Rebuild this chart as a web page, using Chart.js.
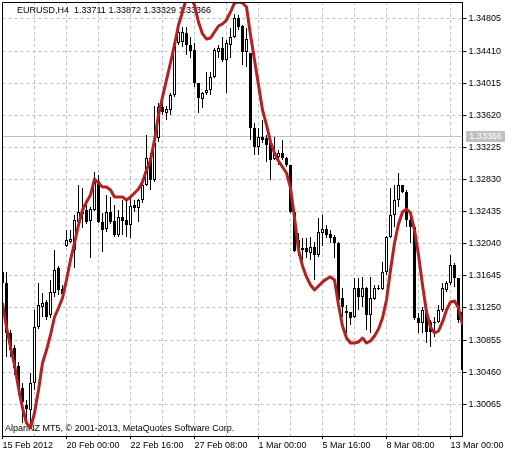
<!DOCTYPE html>
<html>
<head>
<meta charset="utf-8">
<title>EURUSD,H4</title>
<script src="https://cdn.jsdelivr.net/npm/chart.js@4.4.1/dist/chart.umd.min.js"></script>
<style>
  html, body { margin: 0; padding: 0; background: #fff; }
  #wrap { width: 516px; height: 457px; }
</style>
</head>
<body>
<div id="wrap"><canvas id="priceChart" width="516" height="457"></canvas></div>
<script>
// EURUSD H4 sviečky (index = poradie baru)
const opens = [
  1.31692, 1.31557, 1.30941, 1.30757, 1.30535, 1.30265, 1.30055, 1.29994, 1.30326, 1.31015,
  1.31261, 1.31323, 1.31163, 1.31434, 1.31741, 1.31483, 1.32012, 1.32061, 1.31963, 1.32307,
  1.32430, 1.32455, 1.32320, 1.32455, 1.32812, 1.32307, 1.32221, 1.32430, 1.32320, 1.32147,
  1.32369, 1.32332, 1.32270, 1.32516, 1.32480, 1.32578, 1.32763, 1.33095, 1.32824, 1.33341,
  1.33722, 1.33649, 1.33685, 1.33870, 1.34510, 1.34522, 1.34633, 1.34485, 1.34424, 1.34018,
  1.33821, 1.33895, 1.33932, 1.34092, 1.34399, 1.34448, 1.34301, 1.34485, 1.34584, 1.34818,
  1.34719, 1.34399, 1.34387, 1.33464, 1.33230, 1.33353, 1.33341, 1.33279, 1.33083, 1.33107,
  1.33156, 1.33095, 1.33009, 1.32430, 1.32086, 1.31987, 1.31987, 1.31926, 1.32000, 1.31901,
  1.32172, 1.32221, 1.32160, 1.32123, 1.32049, 1.31372, 1.31212, 1.31200, 1.31138, 1.31495,
  1.31384, 1.31495, 1.31163, 1.31360, 1.31483, 1.31483, 1.31692, 1.32123, 1.32393, 1.32578,
  1.32763, 1.32676, 1.32332, 1.32246, 1.31126, 1.31064, 1.31224, 1.31077, 1.31077, 1.31077,
  1.31224, 1.31471, 1.31557, 1.31778, 1.31618, 1.31200
];
const highs = [
  1.31741, 1.31692, 1.30978, 1.30794, 1.30585, 1.30326, 1.30117, 1.30449, 1.31224, 1.31557,
  1.31434, 1.31347, 1.31594, 1.31963, 1.31766, 1.31532, 1.32209, 1.32209, 1.32393, 1.32763,
  1.32726, 1.32516, 1.32492, 1.32923, 1.32886, 1.32418, 1.32640, 1.32615, 1.32516, 1.32455,
  1.32578, 1.32603, 1.32640, 1.32578, 1.32590, 1.32824, 1.33378, 1.33156, 1.33735, 1.33772,
  1.33772, 1.33735, 1.33895, 1.34547, 1.34694, 1.34707, 1.34707, 1.34584, 1.34510, 1.34018,
  1.33907, 1.34153, 1.34153, 1.34448, 1.34485, 1.34584, 1.34547, 1.34694, 1.34867, 1.34854,
  1.34731, 1.34694, 1.34387, 1.33525, 1.33464, 1.33562, 1.33378, 1.33316, 1.33353, 1.33193,
  1.33316, 1.33107, 1.33009, 1.32455, 1.32172, 1.32110, 1.32110, 1.32123, 1.32061, 1.32357,
  1.32393, 1.32270, 1.32209, 1.32147, 1.32061, 1.31495, 1.31286, 1.31200, 1.31618, 1.31618,
  1.31631, 1.31507, 1.31631, 1.31532, 1.31532, 1.31815, 1.32135, 1.32726, 1.32763, 1.32910,
  1.32763, 1.32701, 1.32418, 1.32246, 1.31188, 1.31261, 1.31261, 1.31101, 1.31138, 1.31286,
  1.31557, 1.31581, 1.31901, 1.31803, 1.31618, 1.31224
];
const lows = [
  1.31471, 1.30646, 1.30646, 1.30425, 1.30179, 1.29834, 1.29834, 1.29809, 1.30240, 1.30991,
  1.31138, 1.31101, 1.31126, 1.31384, 1.31409, 1.31347, 1.32000, 1.32049, 1.31741, 1.32295,
  1.32233, 1.32283, 1.31864, 1.32443, 1.32295, 1.31938, 1.32184, 1.32283, 1.32123, 1.32123,
  1.32147, 1.32123, 1.32110, 1.32430, 1.32307, 1.32541, 1.32750, 1.32701, 1.32799, 1.33292,
  1.33624, 1.33562, 1.33624, 1.33845, 1.34485, 1.34461, 1.34362, 1.34325, 1.33968, 1.33649,
  1.33710, 1.33870, 1.33870, 1.34079, 1.34325, 1.34276, 1.33895, 1.34325, 1.34571, 1.34670,
  1.34239, 1.34215, 1.33316, 1.33132, 1.33132, 1.33279, 1.33046, 1.32824, 1.33070, 1.33009,
  1.33070, 1.32984, 1.32418, 1.31938, 1.31889, 1.31840, 1.31864, 1.31840, 1.31594, 1.31877,
  1.32012, 1.32110, 1.32049, 1.31864, 1.31311, 1.31138, 1.30941, 1.31040, 1.31126, 1.31224,
  1.31261, 1.30978, 1.30941, 1.31347, 1.31471, 1.31471, 1.31655, 1.32110, 1.32246, 1.32492,
  1.32664, 1.32246, 1.32049, 1.31101, 1.30941, 1.30941, 1.30818, 1.30769, 1.30892, 1.31064,
  1.31200, 1.31446, 1.31532, 1.31507, 1.31064, 1.30461
];
const closes = [
  1.31557, 1.30941, 1.30732, 1.30511, 1.30265, 1.30092, 1.30006, 1.30326, 1.31015, 1.31286,
  1.31311, 1.31138, 1.31446, 1.31717, 1.31471, 1.31421, 1.32086, 1.32098, 1.32332, 1.32430,
  1.32406, 1.32307, 1.32467, 1.32824, 1.32307, 1.32209, 1.32430, 1.32307, 1.32147, 1.32369,
  1.32320, 1.32270, 1.32504, 1.32480, 1.32578, 1.32763, 1.33095, 1.32824, 1.33279, 1.33722,
  1.33661, 1.33698, 1.33870, 1.34510, 1.34645, 1.34645, 1.34485, 1.34411, 1.34018, 1.33833,
  1.33895, 1.33932, 1.34092, 1.34424, 1.34448, 1.34301, 1.34510, 1.34584, 1.34818, 1.34707,
  1.34399, 1.34559, 1.33464, 1.33230, 1.33353, 1.33316, 1.33255, 1.33070, 1.33156, 1.33156,
  1.33095, 1.33009, 1.32430, 1.31950, 1.31987, 1.31963, 1.31938, 1.32000, 1.31901, 1.32184,
  1.32221, 1.32147, 1.32110, 1.32049, 1.31347, 1.31261, 1.31188, 1.31126, 1.31495, 1.31384,
  1.31495, 1.31163, 1.31372, 1.31495, 1.31495, 1.31692, 1.32123, 1.32393, 1.32578, 1.32763,
  1.32676, 1.32332, 1.32246, 1.31126, 1.31064, 1.31224, 1.30954, 1.30954, 1.31064, 1.31224,
  1.31495, 1.31557, 1.31778, 1.31618, 1.31101, 1.30486
];
// červená krivka indikátora
const maLine = [
  1.31311, 1.31015, 1.30769, 1.30548, 1.30265, 1.30019, 1.29834, 1.29772, 1.29957, 1.30240,
  1.30572, 1.30732, 1.30917, 1.31138, 1.31249, 1.31372, 1.31594, 1.31840, 1.32049, 1.32270,
  1.32455, 1.32553, 1.32640, 1.32836, 1.32787, 1.32738, 1.32738, 1.32701, 1.32615, 1.32615,
  1.32615, 1.32578, 1.32615, 1.32664, 1.32713, 1.32799, 1.32947, 1.33070, 1.33316, 1.33624,
  1.33845, 1.34055, 1.34264, 1.34485, 1.34731, 1.34891, 1.35064, 1.35076, 1.34977, 1.34768,
  1.34621, 1.34559, 1.34571, 1.34645, 1.34719, 1.34744, 1.34793, 1.34891, 1.35002, 1.35014,
  1.35002, 1.34953, 1.34608, 1.34301, 1.33993, 1.33685, 1.33501, 1.33292, 1.33156, 1.33058,
  1.32984, 1.32910, 1.32726, 1.32357, 1.31963, 1.31766, 1.31631, 1.31532, 1.31471, 1.31520,
  1.31569, 1.31606, 1.31631, 1.31594, 1.31286, 1.31028, 1.30880, 1.30818, 1.30818, 1.30831,
  1.30880, 1.30818, 1.30843, 1.30905, 1.30991, 1.31126, 1.31347, 1.31717, 1.32049, 1.32283,
  1.32430, 1.32467, 1.32418, 1.32209, 1.31901, 1.31532, 1.31200, 1.31015, 1.30941, 1.30966,
  1.31077, 1.31224, 1.31323, 1.31335, 1.31249, 1.31040
];

const priceTicks = [1.30065, 1.30460, 1.30855, 1.31250, 1.31645, 1.32040, 1.32435,
                    1.32830, 1.33225, 1.33620, 1.34015, 1.34410, 1.34805];
const gridBars = [0, 8, 16, 24, 32, 40, 48, 56, 64, 72, 80, 88, 96, 104, 112];
const labelBars = [0, 16, 32, 48, 64, 80, 96, 112];
const timeLabels = ['15 Feb 2012', '20 Feb 00:00', '22 Feb 16:00', '27 Feb 08:00',
                    '1 Mar 00:00', '5 Mar 16:00', '8 Mar 08:00', '13 Mar 00:00'];
const bidPrice = 1.33366;
const headerText = 'EURUSD,H4  1.33711 1.33872 1.33329 1.33366';
const footerText = 'AlpariNZ MT5, \u00a9 2001-2013, MetaQuotes Software Corp.';

const FAMILY = '"Liberation Sans", Arial, sans-serif';
const FONT = '9px ' + FAMILY;

const wicks = lows.map((l, i) => ({ x: i, y: [l, highs[i]] }));
const bodies = opens.map((o, i) => ({ x: i, y: [o, closes[i]] }));
const bodyColors = opens.map((o, i) => closes[i] >= o ? '#ffffff' : '#000000');
const maPoints = maLine.map((v, i) => ({ x: i, y: v }));

// texty, bid čiara, rámik
const chartDecor = {
    id: 'chartDecor',
    beforeDatasetsDraw(chart) {
        const { ctx, chartArea: a, scales: { y } } = chart;
        const py = Math.round(y.getPixelForValue(bidPrice)) + 0.5;
        ctx.save();
        ctx.strokeStyle = '#c0c0c0';
        ctx.lineWidth = 1;
        ctx.beginPath();
        ctx.moveTo(a.left, py);
        ctx.lineTo(a.right, py);
        ctx.stroke();
        ctx.fillStyle = '#000';
        ctx.font = FONT;
        ctx.textBaseline = 'alphabetic';
        ctx.fillText(headerText, 17, 12.5);
        ctx.fillText(footerText, 5, 430.5);
        ctx.restore();
    },
    afterDatasetsDraw(chart) {
        const { ctx, chartArea: a } = chart;
        ctx.save();
        ctx.strokeStyle = '#000';
        ctx.lineWidth = 1;
        ctx.beginPath();
        ctx.moveTo(Math.floor(a.left) + 0.5, a.bottom);
        ctx.lineTo(Math.floor(a.left) + 0.5, Math.floor(a.top) + 0.5);
        ctx.lineTo(a.right, Math.floor(a.top) + 0.5);
        ctx.stroke();
        ctx.restore();
    },
    afterDraw(chart) {
        const { ctx, scales: { y } } = chart;
        const py = Math.round(y.getPixelForValue(bidPrice)) + 0.5;
        ctx.save();
        ctx.fillStyle = '#c0c0c0';
        ctx.fillRect(466, py - 5.5, 39, 11);
        ctx.fillStyle = '#fff';
        ctx.font = FONT;
        ctx.textAlign = 'center';
        ctx.textBaseline = 'middle';
        ctx.fillText(bidPrice.toFixed(5), 485.5, py);
        ctx.restore();
    }
};

new Chart(document.getElementById('priceChart'), {
    type: 'bar',
    data: {
        datasets: [
            {
                type: 'line',
                data: maPoints,
                borderColor: '#b22222',
                borderWidth: 3,
                pointRadius: 0,
                tension: 0,
                borderJoinStyle: 'round',
                clip: 0,
                order: 0
            },
            {
                data: bodies,
                backgroundColor: bodyColors,
                borderColor: '#000',
                borderWidth: 1,
                borderSkipped: false,
                barThickness: 3,
                minBarLength: 1,
                inflateAmount: 0,
                grouped: false,
                order: 1
            },
            {
                data: wicks,
                backgroundColor: '#000',
                borderWidth: 0,
                barThickness: 1,
                inflateAmount: 0,
                grouped: false,
                order: 2
            }
        ]
    },
    options: {
        responsive: false,
        devicePixelRatio: 1,
        animation: false,
        events: [],
        layout: { padding: { left: 2.5, top: 2, right: 0, bottom: 0 } },
        scales: {
            x: {
                type: 'linear',
                position: 'bottom',
                min: 0,
                max: 115,
                offset: false,
                afterBuildTicks: s => { s.ticks = gridBars.map(v => ({ value: v })); },
                afterFit: s => { s.height = 21; s.paddingLeft = 0; s.paddingRight = 0; },
                grid: {
                    offset: false,
                    color: '#c0c0c0',
                    tickLength: 3,
                    tickColor: c => (c.tick && labelBars.includes(c.tick.value)) ? '#000' : 'rgba(0,0,0,0)'
                },
                border: { color: '#000', dash: [3, 3] },
                ticks: {
                    autoSkip: false,
                    maxRotation: 0,
                    align: 'start',
                    padding: 1,
                    color: '#000',
                    font: { family: FAMILY, size: 9 },
                    callback: v => {
                        const k = labelBars.indexOf(v);
                        return k < 0 ? '' : timeLabels[k];
                    }
                }
            },
            y: {
                position: 'right',
                min: 1.29674,
                max: 1.35014,
                afterBuildTicks: s => { s.ticks = priceTicks.map(v => ({ value: v })); },
                afterFit: s => { s.width = 53.5; s.paddingTop = 0; s.paddingBottom = 0; },
                grid: { color: '#c0c0c0', tickColor: '#000', tickLength: 4 },
                border: { color: '#000', dash: [3, 3] },
                ticks: {
                    autoSkip: false,
                    padding: 2,
                    color: '#000',
                    font: { family: FAMILY, size: 9 },
                    callback: v => v.toFixed(5)
                }
            }
        },
        plugins: {
            legend: { display: false },
            tooltip: { enabled: false }
        }
    },
    plugins: [chartDecor]
});
</script>
</body>
</html>
